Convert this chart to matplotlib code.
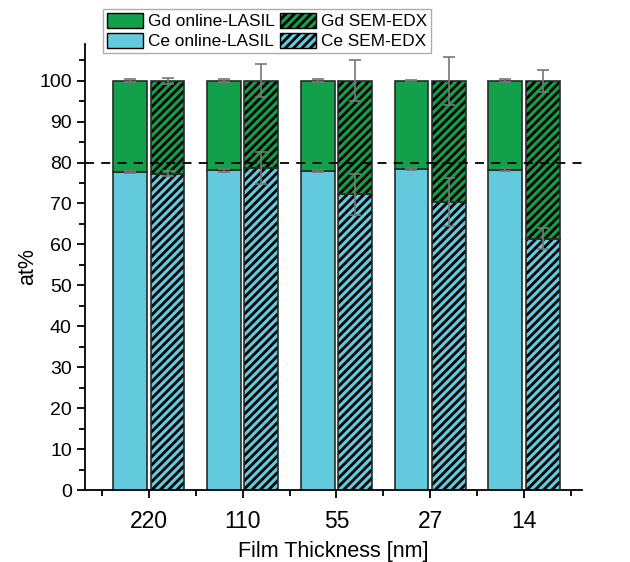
import numpy as np
import matplotlib.pyplot as plt
from matplotlib.patches import Patch
from matplotlib.ticker import MultipleLocator, FixedLocator

plt.rcParams['font.family'] = ['Liberation Sans', 'DejaVu Sans']
plt.rcParams['hatch.linewidth'] = 2.0

# Data
thickness = ['220', '110', '55', '27', '14']
ce_lasil = [77.7, 78.1, 77.9, 78.4, 78.3]
ce_lasil_err = [0.3, 0.3, 0.3, 0.2, 0.3]
gd_lasil_err = [0.3, 0.3, 0.3, 0.2, 0.3]
ce_edx = [77.3, 78.7, 72.2, 70.3, 61.4]
ce_edx_err = [0.7, 4.0, 4.9, 5.9, 2.6]
gd_edx_err = [0.7, 4.0, 5.0, 5.9, 2.7]
total = [100, 100, 100, 100, 100]

green = '#12a04a'
cyan = '#63c9dc'
edge = '#2a2a2a'
errc = '#777777'
hatch = '////'

x = np.arange(len(thickness))
w = 0.36
off = 0.2

ce_lasil = np.array(ce_lasil)
ce_edx = np.array(ce_edx)
gd_lasil = np.array(total) - ce_lasil
gd_edx = np.array(total) - ce_edx

fig = plt.figure(figsize=(6.3, 5.62), dpi=100)
ax = fig.add_axes([0.135, 0.128, 0.789, 0.794])

ax.bar(x - off, ce_lasil, w, color=cyan, edgecolor=edge, linewidth=1.2, zorder=2)
ax.bar(x - off, gd_lasil, w, bottom=ce_lasil, color=green, edgecolor=edge, linewidth=1.2, zorder=2)
# hatched bars: fill + black hatch, then outline on top
ax.bar(x + off, ce_edx, w, color=cyan, edgecolor='black', linewidth=0, hatch=hatch, zorder=2)
ax.bar(x + off, gd_edx, w, bottom=ce_edx, color=green, edgecolor='black', linewidth=0, hatch=hatch, zorder=2)
ax.bar(x + off, ce_edx, w, color='none', edgecolor=edge, linewidth=1.2, zorder=2.5)
ax.bar(x + off, gd_edx, w, bottom=ce_edx, color='none', edgecolor=edge, linewidth=1.2, zorder=2.5)

ekw = dict(fmt='none', ecolor=errc, elinewidth=1.2, capsize=4, capthick=1.2, zorder=3)
ax.errorbar(x - off, ce_lasil, yerr=ce_lasil_err, **ekw)
ax.errorbar(x - off, total, yerr=gd_lasil_err, **ekw)
ax.errorbar(x + off, ce_edx, yerr=ce_edx_err, **ekw)
ax.errorbar(x + off, total, yerr=gd_edx_err, **ekw)

ax.axhline(80, color='black', linestyle=(0, (5, 4)), linewidth=1.3, zorder=4)

ax.set_xlim(-0.68, 4.62)
ax.set_ylim(0, 109)
ax.set_xticks(x)
ax.set_xticklabels(thickness, fontsize=16.5)
ax.xaxis.set_minor_locator(FixedLocator(np.arange(-0.5, 5, 1)))
ax.yaxis.set_minor_locator(MultipleLocator(5))
ax.set_yticks(np.arange(0, 101, 10))
ax.tick_params(axis='y', labelsize=14)
ax.tick_params(which='major', direction='out', length=6, width=1.3)
ax.tick_params(which='minor', direction='out', length=4, width=1.3)
ax.tick_params(axis='x', pad=8)

ax.spines['top'].set_visible(False)
ax.spines['right'].set_visible(False)
ax.spines['left'].set_linewidth(1.3)
ax.spines['bottom'].set_linewidth(1.3)

ax.set_xlabel('Film Thickness [nm]', fontsize=15.5, labelpad=6)
ax.set_ylabel('at%', fontsize=15.5, labelpad=1)

handles = [
    Patch(facecolor=green, edgecolor='black', label='Gd online-LASIL'),
    Patch(facecolor=cyan, edgecolor='black', label='Ce online-LASIL'),
    Patch(facecolor=green, edgecolor='black', hatch=hatch, label='Gd SEM-EDX'),
    Patch(facecolor=cyan, edgecolor='black', hatch=hatch, label='Ce SEM-EDX'),
]
leg = fig.legend(handles=handles, ncol=2, loc='upper left', bbox_to_anchor=(0.1635, 0.984),
                 fontsize=12.4, frameon=True, fancybox=False, handlelength=2.1, handleheight=1.0,
                 handletextpad=0.3, columnspacing=0.3, labelspacing=0.2, borderpad=0.22,
                 borderaxespad=0)
leg.get_frame().set_edgecolor('#999999')
leg.get_frame().set_linewidth(1.0)

fig.savefig('out.png', dpi=100)
